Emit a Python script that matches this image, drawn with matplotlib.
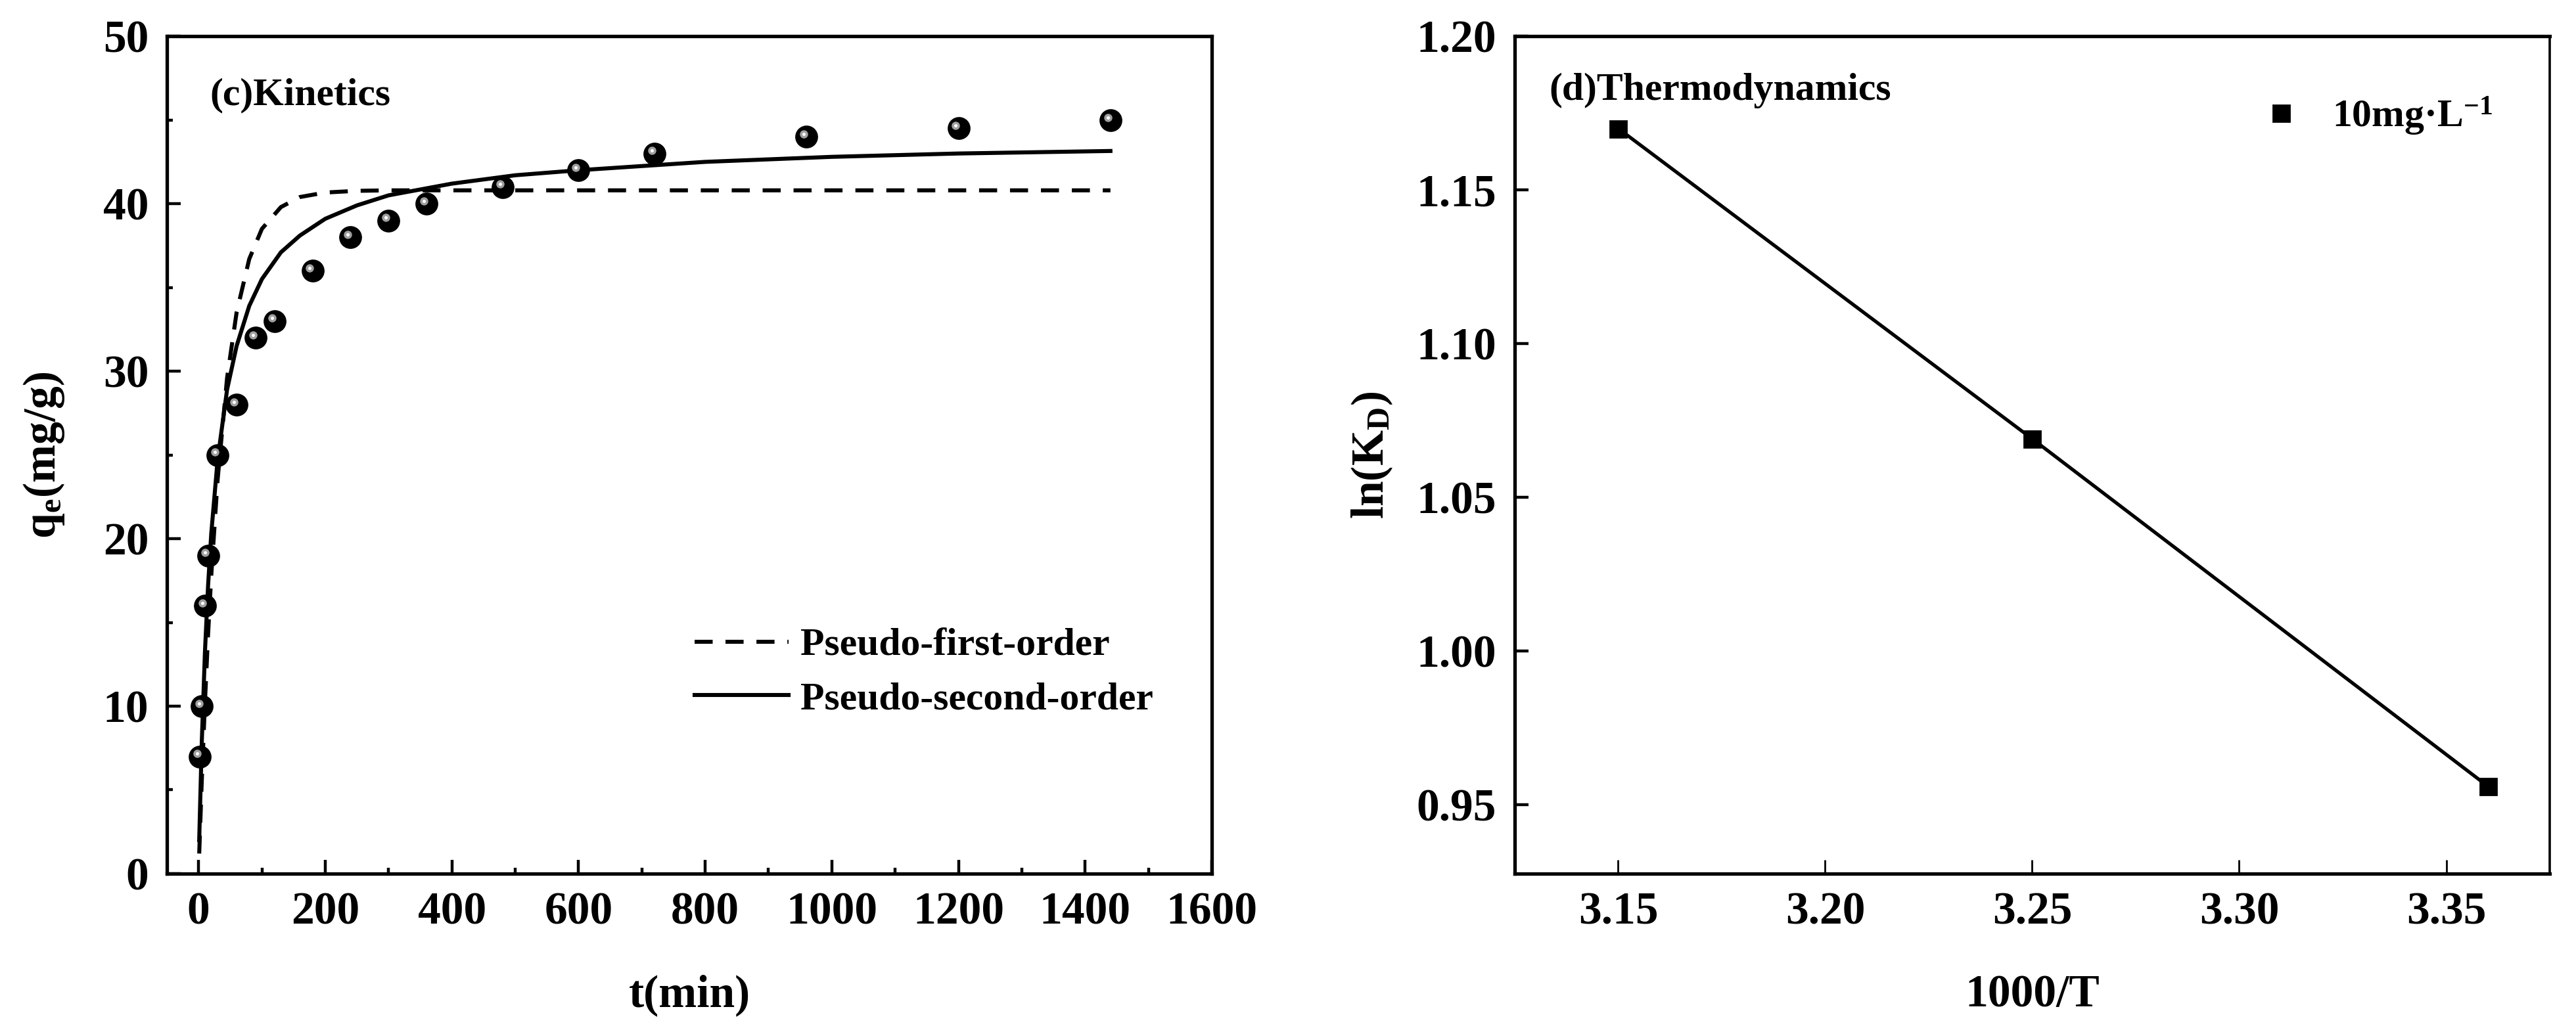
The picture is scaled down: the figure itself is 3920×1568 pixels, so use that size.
import matplotlib
matplotlib.use("Agg")
import matplotlib.pyplot as plt
import matplotlib.transforms as mtransforms

plt.rcParams['font.family'] = ['Liberation Serif', 'DejaVu Serif']
plt.rcParams['font.weight'] = 'bold'
plt.rcParams['mathtext.fontset'] = 'custom'
plt.rcParams['mathtext.rm'] = 'Liberation Serif:bold'
plt.rcParams['mathtext.it'] = 'Liberation Serif:bold'
plt.rcParams['mathtext.bf'] = 'Liberation Serif:bold'
plt.rcParams['mathtext.default'] = 'rm'

# (c) kinetics: measured points
t_exp = [2, 5, 10, 15, 30, 60, 90, 120, 180, 240, 300, 360, 480, 600, 720, 960, 1200, 1440]
q_exp = [7, 10, 16, 19, 25, 28, 32, 33, 36, 38, 39, 40, 41, 42, 43, 44, 44.5, 45]

# fitted curves
t_fit = [1, 2, 5, 10, 15, 20, 30, 45, 60, 80, 100, 130, 160, 200, 250, 300,
         400, 500, 600, 800, 1000, 1200, 1440]
q_pfo = [1.2, 2.3, 5.5, 10.2, 14.3, 17.8, 23.5, 29.6, 33.5, 36.7, 38.5, 39.8,
         40.4, 40.67, 40.77, 40.8, 40.8, 40.8, 40.8, 40.8, 40.8, 40.8, 40.8]
q_pso = [2.0, 3.5, 7.8, 13.2, 17.2, 20.3, 24.7, 28.9, 31.5, 33.9, 35.5, 37.1,
         38.1, 39.1, 39.9, 40.5, 41.2, 41.7, 42.0, 42.5, 42.8, 43.0, 43.15]

# (d) thermodynamics
inv_T = [3.15, 3.25, 3.36]
ln_kd = [1.170, 1.069, 0.956]

fig = plt.figure(figsize=(19.6, 7.84), dpi=200)
ax1 = fig.add_axes([0.0648, 0.1518, 0.4056, 0.813])
ax2 = fig.add_axes([0.588, 0.1518, 0.4018, 0.813])

lw = 2.2
ax1.plot(t_fit, q_pfo, color='black', ls=(0, (4.5, 3.2)), lw=lw, label='Pseudo-first-order')
ax1.plot(t_fit, q_pso, color='black', ls='-', lw=lw, label='Pseudo-second-order')
ax1.plot(t_exp, q_exp, 'o', color='black', ms=11.5, zorder=3)
hl = ax1.transData + mtransforms.ScaledTranslation(-1.5 / 72, 1.5 / 72, fig.dpi_scale_trans)
ax1.plot(t_exp, q_exp, 'o', color='#a0a0a0', ms=4.5, mew=0, transform=hl, zorder=4)
ax1.plot(t_exp, q_exp, 'o', color='white', ms=1.8, mew=0, transform=hl, zorder=5)

ax1.set_xlim(-50, 1600)
ax1.set_ylim(0, 50)
ax1.set_xticks(range(0, 1601, 200))
ax1.set_xticks(range(100, 1600, 200), minor=True)
ax1.set_yticks(range(0, 51, 10))
ax1.set_yticks(range(5, 50, 10), minor=True)
ax1.set_xlabel('t(min)', fontsize=25, fontweight='bold', labelpad=22)
ax1.set_ylabel('q$_{e}$(mg/g)', fontsize=25, fontweight='bold', labelpad=20)
ax1.text(0.041, 0.929, '(c)Kinetics', transform=ax1.transAxes, fontsize=21.5,
         fontweight='bold', va='center', ha='left')
ax1.legend(loc='center left', bbox_to_anchor=(0.505, 0.24), frameon=False,
           fontsize=21.5, handlelength=2.4, handletextpad=0.3,
           labelspacing=0.45, borderaxespad=0, borderpad=0)

ax2.plot(inv_T, ln_kd, color='black', lw=1.9)
ax2.plot(inv_T, ln_kd, 's', color='black', ms=9, ls='none', label='10mg·L$^{-1}$')
ax2.set_xlim(3.125, 3.375)
ax2.set_ylim(0.9275, 1.2)
ax2.set_xticks([3.15, 3.20, 3.25, 3.30, 3.35])
ax2.set_xticklabels(['3.15', '3.20', '3.25', '3.30', '3.35'])
ax2.set_yticks([0.95, 1.00, 1.05, 1.10, 1.15, 1.20])
ax2.set_yticklabels(['0.95', '1.00', '1.05', '1.10', '1.15', '1.20'])
ax2.set_xlabel('1000/T', fontsize=25, fontweight='bold', labelpad=22)
ax2.set_ylabel('ln(K$_{D}$)', fontsize=25, fontweight='bold', labelpad=12)
ax2.text(0.033, 0.935, '(d)Thermodynamics', transform=ax2.transAxes, fontsize=21.5,
         fontweight='bold', va='center', ha='left')
ax2.legend(loc='center left', bbox_to_anchor=(0.71, 0.905), frameon=False,
           fontsize=21.5, handlelength=1.6, handletextpad=0.5, numpoints=1,
           borderaxespad=0, borderpad=0)

for ax in (ax1, ax2):
    for s in ax.spines.values():
        s.set_linewidth(1.9)
    ax.tick_params(which='major', direction='in', length=7.5, width=1.6,
                   labelsize=25, pad=10, top=False, right=False)
    ax.tick_params(which='minor', direction='in', length=3.3, width=1.6,
                   top=False, right=False)
    for lab in ax.get_xticklabels() + ax.get_yticklabels():
        lab.set_fontweight('bold')
ax2.spines['right'].set_linewidth(1.3)
ax2.tick_params(axis='x', which='major', width=1.0)

fig.savefig('out.png', dpi=200)
